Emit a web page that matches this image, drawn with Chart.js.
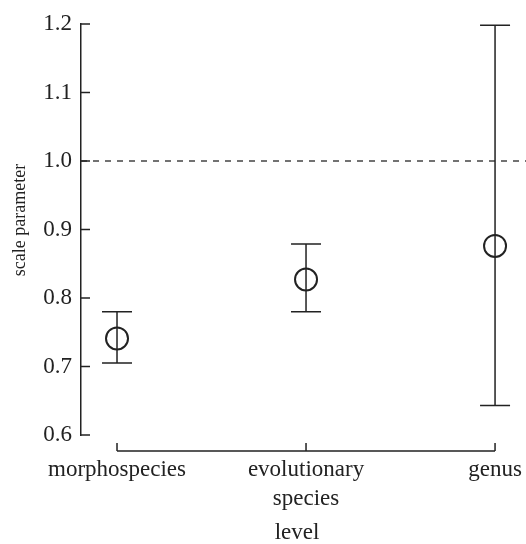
<!DOCTYPE html>
<html>
<head>
<meta charset="utf-8">
<style>
  html, body { margin: 0; padding: 0; background: #fff; }
  #wrap { width: 526px; height: 544px; }
</style>
<script src="https://cdn.jsdelivr.net/npm/chart.js@4.4.1/dist/chart.umd.min.js"></script>
</head>
<body>
<div id="wrap"><canvas id="c" width="526" height="544"></canvas></div>
<script>
const categories = [['morphospecies'], ['evolutionary', 'species'], ['genus']];
const estimates = [0.741, 0.827, 0.876];
const lowerCI = [0.705, 0.780, 0.643];
const upperCI = [0.780, 0.879, 1.198];
const yTicks = [0.6, 0.7, 0.8, 0.9, 1.0, 1.1, 1.2];
const referenceLine = 1.0;
const yTitle = 'scale parameter';

const INK = '#222222';
const SERIF = "'Liberation Serif', 'Times New Roman', serif";

const points = estimates.map((v, i) => ({ x: i, y: v }));

const decor = {
  id: 'decor',
  beforeDatasetsDraw(chart) {
    const { ctx, chartArea, scales } = chart;
    const xs = scales.x, ys = scales.y;
    ctx.save();
    // reference dashed line
    ctx.strokeStyle = '#444';
    ctx.lineWidth = 1.5;
    ctx.setLineDash([6, 6]);
    const yr = ys.getPixelForValue(referenceLine);
    ctx.beginPath();
    ctx.moveTo(chartArea.left, yr);
    ctx.lineTo(chart.width, yr);
    ctx.stroke();
    ctx.setLineDash([]);
    // error bars
    ctx.strokeStyle = INK;
    ctx.lineWidth = 1.5;
    estimates.forEach((v, i) => {
      const px = xs.getPixelForValue(i);
      const lo = ys.getPixelForValue(lowerCI[i]);
      const hi = ys.getPixelForValue(upperCI[i]);
      ctx.beginPath();
      ctx.moveTo(px, lo); ctx.lineTo(px, hi);
      ctx.moveTo(px - 15, lo); ctx.lineTo(px + 15, lo);
      ctx.moveTo(px - 15, hi); ctx.lineTo(px + 15, hi);
      ctx.stroke();
    });
    // y tick marks (inward)
    yTicks.forEach(t => {
      const py = ys.getPixelForValue(t);
      ctx.beginPath();
      ctx.moveTo(chartArea.left, py);
      ctx.lineTo(chartArea.left + 9, py);
      ctx.stroke();
    });
    // detached x axis line with upward ticks
    const ay = chartArea.bottom + 16;
    const x0 = xs.getPixelForValue(0), x1 = xs.getPixelForValue(categories.length - 1);
    ctx.beginPath();
    ctx.moveTo(x0, ay); ctx.lineTo(x1, ay);
    categories.forEach((c, i) => {
      const px = xs.getPixelForValue(i);
      ctx.moveTo(px, ay); ctx.lineTo(px, ay - 8);
    });
    ctx.stroke();
    // y axis title
    ctx.fillStyle = INK;
    ctx.font = "18px " + SERIF;
    ctx.textAlign = 'center';
    ctx.textBaseline = 'middle';
    ctx.translate(20, 220);
    ctx.rotate(-Math.PI / 2);
    ctx.fillText(yTitle, 0, 0);
    ctx.restore();
  }
};

new Chart(document.getElementById('c'), {
  type: 'scatter',
  data: {
    datasets: [{
      data: points,
      pointStyle: 'circle',
      pointRadius: 11,
      pointHoverRadius: 11,
      pointBorderWidth: 2,
      pointBorderColor: INK,
      pointBackgroundColor: 'rgba(0,0,0,0)',
      showLine: false
    }]
  },
  options: {
    responsive: false,
    animation: false,
    devicePixelRatio: 1,
    layout: { padding: { left: 0, right: 0, top: 24, bottom: 0 } },
    plugins: { legend: { display: false }, tooltip: { enabled: false } },
    scales: {
      x: {
        type: 'linear',
        min: -0.1905,
        max: 2.095,
        afterBuildTicks(scale) { scale.ticks = categories.map((c, i) => ({ value: i })); },
        afterFit(scale) { scale.height = 109; scale.paddingLeft = 0; scale.paddingRight = 0; },
        grid: { display: false, drawTicks: false },
        border: { display: false },
        ticks: {
          autoSkip: false,
          maxRotation: 0,
          padding: 20,
          color: INK,
          font: { family: SERIF, size: 23, lineHeight: 1.26 },
          callback: (v) => categories[v] || ''
        },
        title: {
          display: true,
          text: 'level',
          color: INK,
          font: { family: SERIF, size: 23, lineHeight: 1.0 },
          padding: { top: 0, bottom: 0 }
        }
      },
      y: {
        min: 0.6,
        max: 1.2,
        afterBuildTicks(scale) { scale.ticks = yTicks.map(v => ({ value: v })); },
        afterFit(scale) { scale.width = 81; scale.paddingTop = 0; scale.paddingBottom = 0; },
        grid: { display: false, drawTicks: false },
        border: { display: true, color: INK, width: 1.5 },
        ticks: {
          padding: 9,
          color: INK,
          font: { family: SERIF, size: 23 },
          callback: (v) => v.toFixed(1)
        },
        title: { display: false }
      }
    }
  },
  plugins: [decor]
});
</script>
</body>
</html>
